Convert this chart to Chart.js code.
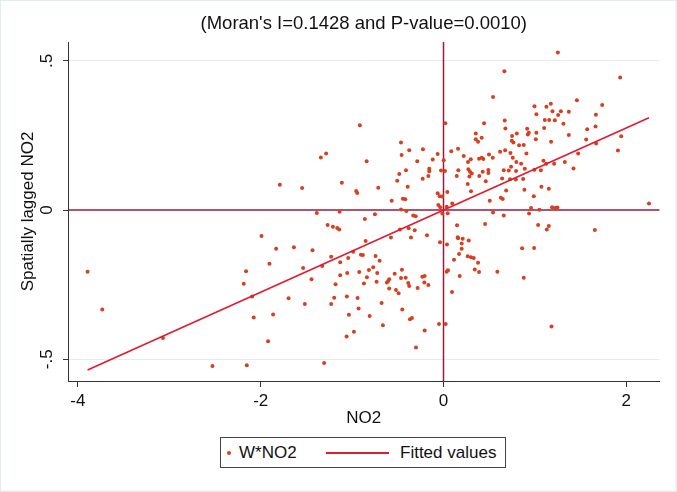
<!DOCTYPE html>
<html>
<head>
<meta charset="utf-8">
<script src="https://cdn.jsdelivr.net/npm/chart.js@4.4.1/dist/chart.umd.min.js"></script>
<style>
  html, body { margin: 0; padding: 0; background: #fff; }
  #wrap { position: relative; width: 677px; height: 492px; }
  #legend {
    position: absolute; left: 220px; top: 437px; width: 284px; height: 29px;
    border: 1px solid #444; background: #fff;
    font: 17px "Liberation Sans", Arial, sans-serif; color: #111; line-height: 29px;
  }
  #legend span { position: absolute; top: 0; white-space: nowrap; }
  #legend .dot { width: 4px; height: 4px; border-radius: 50%; top: 13px; }
  #legend .line { height: 2px; top: 14px; }
</style>
</head>
<body>
<div id="wrap">
  <canvas id="chart" width="677" height="492"></canvas>
  <div id="legend"></div>
</div>
<script>
// NO2 (x) and spatially lagged NO2 (y)
var no2 = [
  -0.915,-1.342,-1.284,-0.841,-1.791,-1.547,-1.112,-0.955,-0.944,-1.386,-1.137,
  0.666,0.542,0.020,0.444,0.670,0.677,0.353,0.353,0.378,0.418,0.802,0.750,0.747,0.765,0.827,
  -0.465,-0.375,-0.458,-0.225,-0.064,0.085,0.159,0.221,0.298,0.268,0.389,0.418,0.436,0.498,0.539,0.619,0.674,0.732,0.758,0.797,
  -0.287,0.002,-0.118,-0.411,-0.156,-0.156,-0.027,0.016,0.162,0.272,0.290,0.309,0.283,0.429,0.491,0.491,0.659,0.714,0.739,
  -0.484,-0.166,-0.228,0.145,0.392,0.462,0.641,0.728,-0.506,-0.392,-0.714,0.265,0.301,0.685,0.042,-0.064,-0.042,-0.016,
  -0.444,-0.418,-0.567,0.096,0.506,0.627,0.648,-0.057,-0.035,0.035,-0.465,-0.750,-0.331,-0.304,0.046,0.542,0.659,-0.013,
  1.251,1.933,1.459,1.736,0.995,1.126,1.174,1.192,1.284,1.371,1.016,1.254,1.667,1.108,1.156,1.218,1.312,1.101,0.915,1.572,1.663,
  0.933,0.922,1.016,1.371,1.010,1.944,1.561,1.177,1.670,0.878,1.908,1.473,0.907,1.093,1.123,1.327,1.210,0.849,
  0.794,0.889,0.995,1.065,1.422,0.871,0.791,1.071,1.152,0.885,0.988,0.958,1.049,1.188,1.221,1.246,0.936,2.248,
  -3.894,-3.733,-3.069,-2.528,
  -0.860,-1.991,-1.268,-1.210,-1.163,-1.141,-1.831,-1.637,-1.433,-0.988,-0.852,-0.904,-0.882,-1.229,-1.043,-1.130,-1.904,-1.327,-1.536,-2.160,-0.816,-0.922,-1.054,
  -1.130,-0.838,-1.444,-2.185,-1.181,-0.871,-2.094,-1.695,-1.196,-1.057,-0.940,-1.517,-1.229,-0.929,-2.076,-1.864,-1.035,-0.808,-1.919,-1.060,-0.980,-2.152,-1.306,
  -0.407,-0.476,-0.381,-0.315,-0.575,-0.356,-0.181,0.148,0.455,-0.038,0.038,0.156,0.159,0.210,0.276,0.199,0.199,0.170,0.265,0.301,0.331,0.378,0.115,
  -0.743,-0.699,-0.769,-0.725,-0.534,-0.455,-0.465,-0.414,-0.386,-0.375,-0.594,-0.605,-0.619,-0.732,-0.594,-0.520,-0.491,-0.283,-0.232,-0.206,-0.210,-0.166,
  0.049,0.035,0.177,0.342,0.389,0.589,0.093,-0.677,-0.451,-0.367,-0.345,-0.663,-0.206,-0.049,0.024,-0.301,
  1.035,1.130,1.152,1.656,0.860,0.991,0.878,1.181
];
var lagNo2 = [
  0.284,0.176,0.189,0.163,0.085,0.074,0.091,0.064,0.057,-0.010,-0.006,
  0.465,0.379,0.291,0.291,0.300,0.273,0.256,0.237,0.229,0.242,0.256,0.248,0.232,0.226,0.217,
  0.226,0.200,0.184,0.204,0.188,0.197,0.205,0.181,0.170,0.161,0.172,0.175,0.171,0.186,0.175,0.195,0.200,0.191,0.175,0.161,
  0.163,0.167,0.169,0.133,0.138,0.130,0.132,0.131,0.133,0.137,0.128,0.122,0.112,0.128,0.134,0.124,0.133,0.132,0.145,
  0.121,0.114,0.105,0.114,0.114,0.096,0.106,0.103,0.098,0.078,0.075,0.087,0.063,0.065,0.060,0.056,0.046,0.045,
  0.038,0.036,0.031,0.022,0.031,0.041,0.037,0.017,0.009,0.011,0.002,-0.014,-0.018,-0.021,-0.011,-0.008,-0.018,-0.012,
  0.528,0.444,0.368,0.352,0.348,0.346,0.356,0.331,0.331,0.329,0.321,0.318,0.319,0.302,0.302,0.301,0.289,0.275,0.272,0.271,0.280,
  0.259,0.253,0.259,0.251,0.237,0.247,0.236,0.229,0.223,0.218,0.199,0.189,0.189,0.165,0.155,0.161,0.155,0.155,
  0.131,0.138,0.135,0.133,0.139,0.104,0.102,0.078,0.071,0.068,0.046,0.007,0.001,0.009,0.007,0.008,-0.012,0.022,
  -0.207,-0.333,-0.429,-0.523,
  -0.030,-0.087,-0.050,-0.056,-0.060,-0.065,-0.130,-0.125,-0.135,-0.140,-0.104,-0.150,-0.151,-0.157,-0.161,-0.175,-0.180,-0.188,-0.194,-0.205,-0.201,-0.208,-0.211,
  -0.219,-0.225,-0.232,-0.247,-0.249,-0.246,-0.290,-0.296,-0.294,-0.290,-0.295,-0.315,-0.315,-0.330,-0.360,-0.350,-0.351,-0.355,-0.440,-0.424,-0.408,-0.520,-0.513,
  -0.003,-0.065,-0.061,-0.068,-0.092,-0.092,-0.085,-0.051,-0.047,-0.108,-0.116,-0.091,-0.095,-0.096,-0.102,-0.112,-0.130,-0.147,-0.155,-0.158,-0.161,-0.177,-0.167,
  -0.154,-0.170,-0.192,-0.211,-0.214,-0.200,-0.228,-0.227,-0.245,-0.255,-0.232,-0.238,-0.243,-0.240,-0.263,-0.268,-0.279,-0.261,-0.224,-0.221,-0.243,-0.251,
  -0.202,-0.207,-0.221,-0.199,-0.208,-0.207,-0.275,-0.312,-0.333,-0.366,-0.362,-0.386,-0.404,-0.382,-0.382,-0.461,
  -0.050,-0.065,-0.054,-0.067,-0.128,-0.127,-0.227,-0.390
];

// fitted line ends
var fitX = [-3.894, 2.248];
var fitY = [-0.536, 0.309];

var xTicks = [-4, -2, 0, 2];
var yTicks = [-0.5, 0, 0.5];
var yTickLabels = ['-.5', '0', '.5'];
var refX = 0, refY = 0;

var titleText = "(Moran's I=0.1428 and P-value=0.0010)";
var FONT = '"Liberation Sans", Arial, sans-serif';
var TXT = '#111';

Chart.defaults.font.family = FONT;
Chart.defaults.color = TXT;

var points = no2.map(function (v, i) { return { x: v, y: lagNo2[i] }; });
var fitted = fitX.map(function (v, i) { return { x: v, y: fitY[i] }; });

var stataBits = {
  id: 'stataBits',
  beforeDraw: function (chart) {
    var c = chart.ctx;
    c.save();
    c.fillStyle = '#e2edef';
    c.fillRect(0, 0, chart.width, chart.height);
    c.fillStyle = '#fff';
    c.fillRect(1, 1, chart.width - 2.5, chart.height - 2.5);
    c.restore();
  },
  beforeDatasetsDraw: function (chart) {
    var c = chart.ctx, a = chart.chartArea;
    var px = chart.scales.x.getPixelForValue(refX);
    var py = chart.scales.y.getPixelForValue(refY);
    c.save();
    c.strokeStyle = '#9c1a3c';
    c.lineWidth = 1.5;
    c.beginPath();
    c.moveTo(a.left, py); c.lineTo(a.right, py);
    c.moveTo(px, a.top); c.lineTo(px, a.bottom);
    c.stroke();
    c.restore();
  },
  afterDraw: function (chart) {
    var c = chart.ctx, a = chart.chartArea, ys = chart.scales.y;
    c.save();
    c.fillStyle = TXT;
    // title over the plot region
    c.font = '18.5px ' + FONT;
    c.textAlign = 'center';
    c.textBaseline = 'middle';
    c.fillText(titleText, (a.left + a.right) / 2, 24);
    // rotated y tick labels
    c.font = '17px ' + FONT;
    yTicks.forEach(function (v, i) {
      c.save();
      c.translate(47, ys.getPixelForValue(v));
      c.rotate(-Math.PI / 2);
      c.fillText(yTickLabels[i], 0, 0);
      c.restore();
    });
    c.restore();
  }
};

var chart = new Chart(document.getElementById('chart'), {
  type: 'scatter',
  data: {
    datasets: [{
      label: 'Fitted values',
      type: 'line',
      data: fitted,
      borderColor: '#e31a2d',
      borderWidth: 1.6,
      pointRadius: 0,
      fill: false,
      order: 0
    }, {
      label: 'W*NO2',
      data: points,
      backgroundColor: '#d7401f',
      borderWidth: 0,
      pointRadius: 2,
      order: 1
    }]
  },
  options: {
    responsive: false,
    animation: false,
    events: [],
    layout: { padding: { left: 0, right: 17.5, top: 42, bottom: 0 } },
    plugins: {
      legend: { display: false },
      tooltip: { enabled: false }
    },
    scales: {
      x: {
        type: 'linear',
        min: -4.108,
        max: 2.363,
        afterBuildTicks: function (s) { s.ticks = xTicks.map(function (v) { return { value: v }; }); },
        afterFit: function (s) { s.height = 111; },
        grid: { drawOnChartArea: false, drawTicks: true, tickLength: 6, tickColor: '#333' },
        border: { display: true, color: '#333', width: 1 },
        ticks: { font: { size: 17 }, padding: 4, color: TXT, callback: function (v) { return String(v); } },
        title: { display: true, text: 'NO2', font: { size: 17 }, color: TXT, padding: { top: 0, bottom: 63 } }
      },
      y: {
        type: 'linear',
        min: -0.573,
        max: 0.563,
        afterBuildTicks: function (s) { s.ticks = yTicks.map(function (v) { return { value: v }; }); },
        afterFit: function (s) { s.width = 68; },
        grid: {
          drawTicks: true, tickLength: 5, tickColor: '#333', lineWidth: 1,
          color: function (ctx) { return ctx.tick && ctx.tick.value === 0 ? 'rgba(0,0,0,0)' : '#e3ecee'; }
        },
        border: { display: true, color: '#333', width: 1 },
        ticks: { display: false },
        title: { display: true, text: 'Spatially lagged NO2', font: { size: 17 }, color: TXT, padding: { top: 18, bottom: 0 } }
      }
    }
  },
  plugins: [stataBits]
});

// boxed legend under the axis, built from the datasets
var legendEl = document.getElementById('legend');
var sc = chart.data.datasets[1], ln = chart.data.datasets[0];
legendEl.innerHTML =
  '<span class="dot" style="left:6px;background:' + sc.backgroundColor + '"></span>' +
  '<span style="left:18px">' + sc.label + '</span>' +
  '<span class="line" style="left:105px;width:63px;background:' + ln.borderColor + '"></span>' +
  '<span style="left:179px">' + ln.label + '</span>';
</script>
</body>
</html>
